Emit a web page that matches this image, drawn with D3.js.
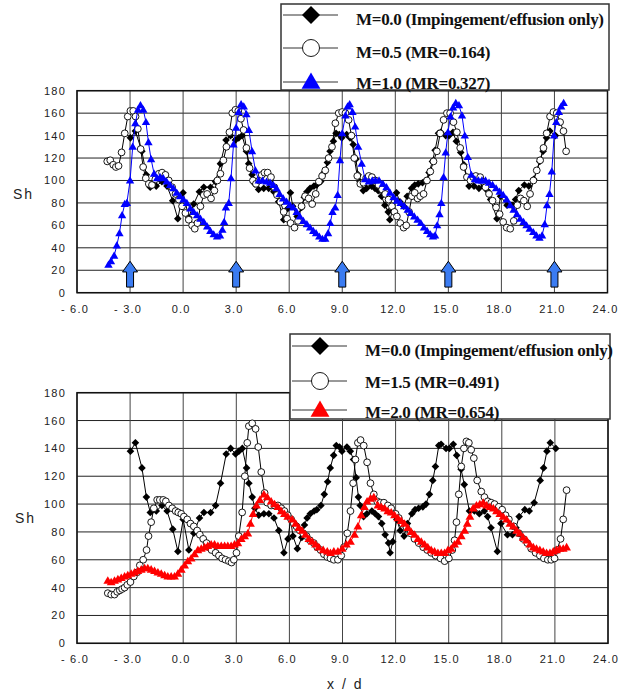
<!DOCTYPE html>
<html>
<head>
<meta charset="utf-8"/>
<title>Sh vs x/d</title>
<script src="https://cdnjs.cloudflare.com/ajax/libs/d3/7.8.5/d3.min.js"></script>
<style>
body { margin: 0; background: #fff; }
svg { display: block; }
.tk { font-family: "Liberation Sans", Arial, sans-serif; font-size: 11px; letter-spacing: 1.2px; fill: #222; }
.ax { font-family: "Liberation Sans", Arial, sans-serif; font-size: 14px; letter-spacing: 2px; fill: #222; }
.leg { font-family: "Liberation Serif", "Times New Roman", serif; font-weight: bold; font-size: 17px; letter-spacing: -0.3px; fill: #111; }
</style>
</head>
<body>
<svg id="chart" width="629" height="695"></svg>
<script>
// axis ticks
var xTicks = [-6, -3, 0, 3, 6, 9, 12, 15, 18, 21, 24];
var yTicks = [0, 20, 40, 60, 80, 100, 120, 140, 160, 180];
// injection hole positions (arrows, top panel)
var jetX = [-3, 3, 9, 15, 21];

// M=0.0 (impingement/effusion only) - same in both panels
var m00 = [[-2.98,138],[-2.7,144],[-2.33,126],[-2.08,105],[-1.86,94],[-1.52,95],[-1.2,99],[-0.91,95],[-0.59,82],[-0.3,66],
  [0,89],[0.32,67],[0.6,79],[0.92,90],[1.17,94],[1.55,94],[1.83,99],[2.11,115],[2.43,136],[2.68,140],
  [2.96,136],[3.15,138],[3.34,140],[3.58,126],[3.71,115],[3.9,105],[4.05,97],[4.27,92],[4.56,93],[4.84,93],
  [5.13,90],[5.4,81],[5.69,65],[5.92,75],[6.07,89],[6.2,77],[6.45,68],[6.7,76],[6.85,85],[7.0,90],
  [7.18,93],[7.4,95],[7.55,96],[7.78,99],[7.97,107],[8.16,116],[8.31,126],[8.5,135],[8.65,142],[8.83,141],
  [8.97,138],[9.25,141],[9.44,138],[9.62,132],[9.77,119],[9.9,105],[10.0,99],[10.19,91],[10.38,93],[10.66,95],
  [10.85,93],[11.03,91],[11.22,86],[11.41,78],[11.6,72],[11.69,65],[11.84,73],[12.07,89],[12.26,81],[12.48,77],
  [12.67,86],[12.92,93],[13.1,96],[13.3,97],[13.54,98],[13.72,100],[13.91,107],[14.1,117],[14.25,127],[14.44,142],
  [14.57,143],[14.85,140],[15.04,140],[15.26,143],[15.45,135],[15.7,125],[15.88,114],[16.17,95],[16.45,95],[16.73,93],
  [17.01,95],[17.2,91],[17.39,83],[17.75,66],[17.95,86],[18.32,78],[18.6,78],[18.8,83],[18.98,91],[19.3,96],
  [19.55,95],[19.83,101],[20.17,117],[20.36,126],[20.55,138],[20.74,144],[21.05,140]];

// M=0.5 (MR=0.164)
var m05 = [[-4.29,117],[-4.12,118],[-3.95,114],[-3.8,112],[-3.65,113],[-3.48,125],[-3.3,142],[-3.13,157],[-2.98,162],[-2.82,162],
  [-2.69,157],[-2.56,146],[-2.4,128],[-2.26,112],[-2.11,102],[-1.94,97],[-1.76,96],[-1.57,101],[-1.37,106],[-1.19,107],
  [-1.0,105],[-0.81,100],[-0.62,94],[-0.43,88],[-0.24,83],[-0.06,77],[0.13,71],[0.32,65],[0.51,60],[0.66,57],
  [0.81,62],[0.98,77],[1.17,87],[1.36,88],[1.58,84],[1.77,91],[1.94,100],[2.11,106],[2.28,118],[2.45,130],
  [2.62,143],[2.78,160],[2.96,163],[3.12,162],[3.27,155],[3.42,145],[3.58,129],[3.76,111],[3.95,100],[4.12,97],
  [4.3,100],[4.45,105],[4.6,107],[4.78,107],[4.97,103],[5.16,94],[5.31,87],[5.5,81],[5.69,72],[5.88,66],
  [6.08,62],[6.3,58],[6.5,64],[6.7,77],[6.9,86],[7.1,84],[7.3,79],[7.5,88],[7.68,99],[7.86,104],
  [8.04,109],[8.23,120],[8.42,130],[8.61,151],[8.8,160],[8.99,161],[9.18,160],[9.36,154],[9.52,140],[9.68,120],
  [9.85,104],[10.02,97],[10.2,98],[10.35,102],[10.5,104],[10.68,103],[10.87,100],[11.05,96],[11.25,92],[11.43,88],
  [11.62,83],[11.81,77],[11.95,72],[12.09,68],[12.28,62],[12.47,58],[12.62,60],[12.78,72],[12.94,86],[13.1,89],
  [13.26,84],[13.41,86],[13.6,88],[13.79,100],[13.98,108],[14.16,117],[14.35,126],[14.54,142],[14.73,154],[14.92,160],
  [15.1,160],[15.29,152],[15.48,143],[15.67,129],[15.86,112],[16.05,103],[16.25,100],[16.4,103],[16.55,104],[16.8,103],
  [16.95,99],[17.1,94],[17.3,88],[17.5,82],[17.7,76],[17.9,70],[18.1,63],[18.3,58],[18.5,57],[18.7,64],
  [18.9,78],[19.08,84],[19.27,82],[19.46,77],[19.62,88],[19.81,100],[20.0,109],[20.19,118],[20.38,129],[20.56,142],
  [20.75,157],[20.94,161],[21.13,160],[21.32,152],[21.51,144],[21.66,126]];

// M=1.0 (MR=0.327)
var m10 = [[-4.22,25],[-4.08,28],[-3.9,33],[-3.75,42],[-3.6,53],[-3.45,69],[-3.3,79],[-3.18,80],[-3.0,100],[-2.85,130],
  [-2.7,151],[-2.55,163],[-2.41,167],[-2.25,163],[-2.1,152],[-1.96,134],[-1.81,119],[-1.64,106],[-1.47,102],[-1.3,103],
  [-1.12,102],[-0.93,99],[-0.74,96],[-0.55,93],[-0.36,89],[-0.17,86],[0.02,83],[0.21,80],[0.41,75],[0.6,72],
  [0.79,69],[0.98,66],[1.17,63],[1.36,59],[1.54,55],[1.73,52],[1.92,50],[2.09,51],[2.22,56],[2.32,63],
  [2.42,76],[2.58,80],[2.71,102],[2.85,132],[3.0,147],[3.14,161],[3.28,168],[3.43,166],[3.58,159],[3.72,145],
  [3.9,126],[4.09,109],[4.28,100],[4.5,100],[4.72,99],[4.92,98],[5.1,96],[5.28,93],[5.46,88],[5.66,84],
  [5.85,81],[6.04,78],[6.23,76],[6.42,72],[6.6,68],[6.8,64],[7.0,61],[7.18,58],[7.36,55],[7.52,53],
  [7.7,50],[7.88,48],[8.04,48],[8.2,53],[8.32,62],[8.45,72],[8.6,76],[8.74,87],[8.87,118],[9.0,142],
  [9.18,158],[9.3,166],[9.42,168],[9.58,161],[9.73,148],[9.9,130],[10.1,115],[10.29,101],[10.5,99],[10.7,100],
  [10.88,100],[11.08,100],[11.3,97],[11.5,94],[11.7,89],[11.9,85],[12.1,82],[12.3,80],[12.5,77],[12.7,74],
  [12.88,71],[13.07,68],[13.26,65],[13.44,62],[13.62,58],[13.8,55],[13.98,52],[14.13,50],[14.25,51],[14.37,60],
  [14.5,70],[14.6,80],[14.73,103],[14.85,125],[14.98,143],[15.12,157],[15.27,165],[15.42,169],[15.6,167],[15.77,158],
  [15.93,140],[16.1,121],[16.3,105],[16.5,101],[16.7,100],[16.9,100],[17.1,100],[17.3,98],[17.5,96],[17.7,93],
  [17.9,90],[18.1,87],[18.3,83],[18.5,78],[18.69,74],[18.88,70],[19.06,66],[19.25,63],[19.42,60],[19.6,57],
  [19.8,54],[19.98,51],[20.15,49],[20.3,51],[20.45,61],[20.58,78],[20.72,88],[20.85,108],[20.98,140],[21.1,152],
  [21.25,161],[21.38,166],[21.52,169]];

// M=1.5 (MR=0.491)
var m15 = [[-4.26,36],[-4.07,35],[-3.88,35],[-3.73,37],[-3.58,38],[-3.45,39],[-3.31,40],[-3.16,42],[-2.98,44],[-2.79,48],
  [-2.6,51],[-2.45,56],[-2.26,60],[-2.07,67],[-1.96,77],[-1.81,87],[-1.66,97],[-1.47,103],[-1.32,103],[-1.13,103],
  [-0.98,102],[-0.81,99],[-0.62,97],[-0.43,95],[-0.28,94],[-0.11,93],[0.04,91],[0.23,89],[0.41,86],[0.6,84],
  [0.79,81],[0.94,78],[1.13,75],[1.32,72],[1.45,69],[1.6,67],[1.83,65],[2.02,63],[2.2,61],[2.39,60],
  [2.58,59],[2.73,58],[2.86,60],[3.01,65],[3.14,77],[3.33,94],[3.48,120],[3.62,144],[3.71,156],[3.9,158],
  [4.09,154],[4.24,141],[4.41,123],[4.6,108],[4.75,101],[4.97,99],[5.16,99],[5.35,99],[5.54,97],[5.72,95],
  [5.91,92],[6.1,89],[6.25,86],[6.4,84],[6.59,81],[6.78,79],[6.97,77],[7.16,74],[7.38,72],[7.57,69],
  [7.76,67],[7.95,64],[8.14,62],[8.32,61],[8.51,60],[8.74,60],[8.93,63],[9.08,69],[9.27,79],[9.45,95],
  [9.6,115],[9.73,132],[9.87,144],[10.02,146],[10.2,142],[10.39,130],[10.58,115],[10.77,107],[10.96,102],[11.15,101],
  [11.34,101],[11.56,99],[11.75,97],[12.0,93],[12.18,90],[12.37,86],[12.62,83],[12.84,79],[13.07,75],[13.31,72],
  [13.56,69],[13.79,67],[14.01,65],[14.26,63],[14.54,61],[14.77,59],[15.01,61],[15.2,67],[15.33,74],[15.44,87],
  [15.57,107],[15.71,127],[15.86,140],[16.0,145],[16.14,144],[16.27,139],[16.42,133],[16.61,117],[16.84,109],[17.02,105],
  [17.21,102],[17.4,101],[17.59,100],[17.83,98],[18.02,96],[18.21,92],[18.4,89],[18.68,84],[18.97,79],[19.21,75],
  [19.44,72],[19.66,68],[19.91,65],[20.15,63],[20.38,61],[20.6,60],[20.79,60],[20.98,61],[21.13,67],[21.32,75],
  [21.47,89],[21.66,110]];

// M=2.0 (MR=0.654)
var m20 = [[-4.26,45],[-4.07,44],[-3.88,45],[-3.69,46],[-3.5,47],[-3.31,48],[-3.13,49],[-2.94,50],[-2.75,51],[-2.56,52],
  [-2.37,53],[-2.18,54],[-2.0,54],[-1.81,53],[-1.62,52],[-1.43,51],[-1.24,50],[-1.05,49],[-0.87,48],[-0.68,48],
  [-0.49,48],[-0.3,50],[-0.11,53],[0.08,56],[0.26,59],[0.45,61],[0.64,64],[0.83,67],[1.02,68],[1.21,69],
  [1.39,70],[1.58,71],[1.77,71],[1.96,70],[2.15,70],[2.34,70],[2.52,70],[2.71,70],[2.9,71],[3.09,72],
  [3.28,75],[3.47,77],[3.65,79],[3.8,86],[3.95,93],[4.14,99],[4.33,103],[4.56,107],[4.75,105],[4.97,102],
  [5.16,100],[5.35,98],[5.54,95],[5.72,93],[5.91,91],[6.16,89],[6.35,86],[6.53,83],[6.72,81],[6.91,78],
  [7.1,75],[7.29,73],[7.48,71],[7.66,69],[7.91,67],[8.14,66],[8.32,65],[8.51,66],[8.74,66],[8.98,68],
  [9.22,71],[9.45,73],[9.68,78],[9.87,84],[10.06,92],[10.24,98],[10.39,102],[10.58,104],[10.77,105],[11.0,99],
  [11.19,98],[11.38,97],[11.56,95],[11.75,94],[11.94,92],[12.13,90],[12.32,88],[12.5,86],[12.69,83],[12.88,80],
  [13.07,78],[13.26,75],[13.45,73],[13.64,71],[13.82,69],[14.01,67],[14.2,66],[14.39,65],[14.58,65],[14.77,65],
  [14.96,67],[15.14,68],[15.33,71],[15.52,73],[15.71,77],[15.9,81],[16.05,86],[16.2,91],[16.38,97],[16.57,99],
  [16.76,100],[16.95,101],[17.14,99],[17.33,98],[17.52,97],[17.7,95],[17.89,93],[18.08,91],[18.27,89],[18.46,86],
  [18.65,84],[18.84,81],[19.02,79],[19.21,76],[19.4,74],[19.59,71],[19.78,69],[19.96,68],[20.15,67],[20.34,66],
  [20.53,65],[20.72,65],[20.91,66],[21.09,67],[21.28,68],[21.47,68],[21.66,69]];

var svg = d3.select("#chart");
svg.append("rect").attr("width", 629).attr("height", 695).attr("fill", "#fff");

function markerPath(kind, s) {
  if (kind == "diamond") return "M0," + (-s) + "L" + s + ",0L0," + s + "L" + (-s) + ",0Z";
  if (kind == "triangle") return "M0," + (-s * 1.05) + "L" + (s * 1.05) + "," + (s * 0.75) + "L" + (-s * 1.05) + "," + (s * 0.75) + "Z";
  return null;
}

function drawMarks(g, pts, kind, color, size) {
  if (kind == "circle") {
    g.selectAll(null).data(pts).enter().append("circle")
      .attr("cx", function(d) { return d[0]; })
      .attr("cy", function(d) { return d[1]; })
      .attr("r", size)
      .attr("fill", "#fff")
      .attr("stroke", "#000")
      .attr("stroke-width", 0.9);
  } else {
    g.selectAll(null).data(pts).enter().append("path")
      .attr("transform", function(d) { return "translate(" + d[0] + "," + d[1] + ")"; })
      .attr("d", markerPath(kind, size))
      .attr("fill", color);
  }
}

function panel(cfg) {
  var x = d3.scaleLinear().domain([-6, 24]).range([cfg.left, cfg.right]);
  var y = d3.scaleLinear().domain([0, 180]).range([cfg.bottom, cfg.top]);
  var g = svg.append("g");

  // grid
  g.selectAll(null).data(yTicks).enter().append("line")
    .attr("x1", cfg.left).attr("x2", cfg.right)
    .attr("y1", function(d) { return y(d); }).attr("y2", function(d) { return y(d); })
    .attr("stroke", "#222").attr("stroke-width", 1);
  g.selectAll(null).data(xTicks).enter().append("line")
    .attr("y1", cfg.top).attr("y2", cfg.bottom)
    .attr("x1", function(d) { return x(d); }).attr("x2", function(d) { return x(d); })
    .attr("stroke", "#444").attr("stroke-width", 1);
  g.append("rect")
    .attr("x", cfg.left).attr("y", cfg.top)
    .attr("width", cfg.right - cfg.left).attr("height", cfg.bottom - cfg.top)
    .attr("fill", "none").attr("stroke", "#111").attr("stroke-width", 1.5);

  // tick labels
  g.selectAll(null).data(yTicks).enter().append("text")
    .attr("class", "tk")
    .attr("x", cfg.left - 11).attr("y", function(d) { return y(d) + 4; })
    .attr("text-anchor", "end")
    .text(function(d) { return d; });
  g.selectAll(null).data(xTicks).enter().append("text")
    .attr("class", "tk")
    .attr("x", function(d) { return x(d) - 2; }).attr("y", cfg.bottom + 20)
    .attr("text-anchor", "middle")
    .text(function(d) { return d < 0 ? "- " + Math.abs(d).toFixed(1) : d.toFixed(1); });

  g.append("text").attr("class", "ax")
    .attr("x", cfg.shX).attr("y", cfg.shY)
    .text("Sh");

  // series
  var line = d3.line().x(function(d) { return x(d[0]); }).y(function(d) { return y(d[1]); });
  cfg.series.forEach(function(s) {
    if (s.line) {
      g.append("path").datum(s.data).attr("d", line)
        .attr("fill", "none").attr("stroke", s.line).attr("stroke-width", 1);
    }
    var pts = s.data.map(function(d) { return [x(d[0]), y(d[1])]; });
    drawMarks(g.append("g"), pts, s.kind, s.color, s.size);
  });

  // arrows marking the holes
  if (cfg.arrows) {
    g.selectAll(null).data(jetX).enter().append("path")
      .attr("transform", function(d) { return "translate(" + x(d) + ",0)"; })
      .attr("d", function() {
        var b = y(5), h = y(18.5), t = y(28);
        return "M-3.5," + b + "L3.5," + b + "L3.5," + h + "L7.5," + h + "L0," + t +
               "L-7.5," + h + "L-3.5," + h + "Z";
      })
      .attr("fill", "#3b7cf2").attr("stroke", "#000").attr("stroke-width", 1);
  }

  // legend
  var L = cfg.legend;
  var lg = svg.append("g");
  lg.append("rect").attr("x", L.x).attr("y", L.y).attr("width", L.w).attr("height", L.h)
    .attr("fill", "#fff").attr("stroke", "#333").attr("stroke-width", 1.5);
  cfg.series.forEach(function(s, i) {
    var cy = L.rows[i];
    lg.append("line").attr("x1", L.x + 2).attr("x2", L.x + 57)
      .attr("y1", cy).attr("y2", cy).attr("stroke", "#333").attr("stroke-width", 1);
    drawMarks(lg.append("g"), [[L.x + 30, cy]], s.kind, s.color, s.kind == "circle" ? 8.5 : 9);
    lg.append("text").attr("class", "leg")
      .attr("x", L.x + 75).attr("y", L.base[i])
      .text(s.name);
  });
}

panel({
  left: 77, right: 607.5, top: 90.7, bottom: 292.7,
  shX: 13, shY: 199,
  arrows: true,
  series: [
    { name: "M=0.0 (Impingement/effusion only)", data: m00, kind: "diamond", color: "#000", size: 3.8, line: "#000" },
    { name: "M=0.5 (MR=0.164)", data: m05, kind: "circle", color: "#000", size: 3.4, line: "#000" },
    { name: "M=1.0 (MR=0.327)", data: m10, kind: "triangle", color: "#0000ff", size: 4, line: "#0000ff" }
  ],
  legend: { x: 281, y: 4, w: 328, h: 86, rows: [15, 48, 82], base: [25, 58, 89] }
});

panel({
  left: 77, right: 608, top: 392.7, bottom: 643.3,
  shX: 15, shY: 523,
  arrows: false,
  series: [
    { name: "M=0.0 (Impingement/effusion only)", data: m00, kind: "diamond", color: "#000", size: 3.8, line: "#000" },
    { name: "M=1.5 (MR=0.491)", data: m15, kind: "circle", color: "#000", size: 3.4, line: "#000" },
    { name: "M=2.0 (MR=0.654)", data: m20, kind: "triangle", color: "#ff0000", size: 4.2, line: "#ff0000" }
  ],
  legend: { x: 290, y: 334, w: 320, h: 85, rows: [346, 381, 410], base: [356, 388, 418] }
});

svg.append("text").attr("class", "ax")
  .attr("x", 327).attr("y", 689)
  .text("x / d");
</script>
</body>
</html>
